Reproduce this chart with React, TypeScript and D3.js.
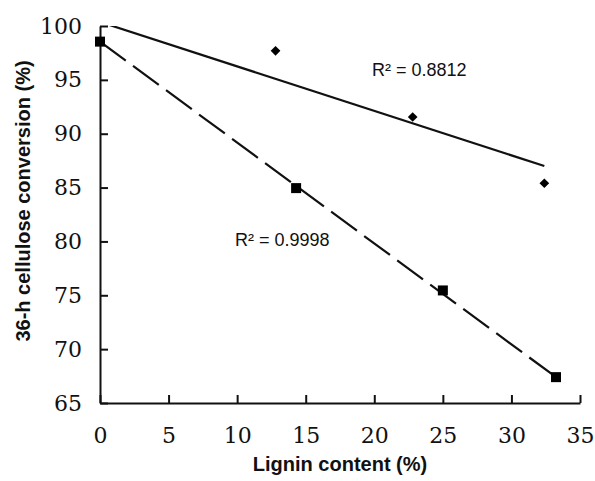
import React, { useEffect, useRef } from "react";
import * as d3 from "d3";

// lignin content (%) vs 36-h cellulose conversion (%)
const diamondX = [12.8, 22.8, 32.4];
const diamondY = [97.7, 91.55, 85.4];
const squareX = [0, 14.3, 25, 33.25];
const squareY = [98.55, 84.95, 75.45, 67.4];

// fitted trend lines (end points)
const trendSolidX = [0, 32.4];
const trendSolidY = [100.38, 87.0];
const trendDashX = [0, 33.25];
const trendDashY = [98.55, 67.4];

const xTicks = [0, 5, 10, 15, 20, 25, 30, 35];
const yTicks = [65, 70, 75, 80, 85, 90, 95, 100];

const App = () => {
  const ref = useRef<SVGSVGElement>(null);

  const width = 595;
  const height = 481;
  const margin = { top: 26, right: 15, bottom: 78, left: 100 };
  const innerW = width - margin.left - margin.right;
  const innerH = height - margin.top - margin.bottom;

  useEffect(() => {
    const svg = d3.select(ref.current);
    svg.selectAll("*").remove();

    const xScale = d3.scaleLinear().domain([0, 35]).range([0, innerW]);
    const yScale = d3.scaleLinear().domain([65, 100]).range([innerH, 0]);

    const g = svg
      .append("g")
      .attr("transform", `translate(${margin.left},${margin.top})`);

    g.append("clipPath")
      .attr("id", "plot-clip")
      .append("rect")
      .attr("x", 0)
      .attr("y", 0)
      .attr("width", innerW)
      .attr("height", innerH);

    // axes with inward ticks
    const xAxis = g
      .append("g")
      .attr("transform", `translate(0,${innerH})`)
      .call(
        d3
          .axisBottom(xScale)
          .tickValues(xTicks)
          .tickSizeInner(-8)
          .tickSizeOuter(0)
          .tickPadding(24)
      );
    const yAxis = g.append("g").call(
      d3
        .axisLeft(yScale)
        .tickValues(yTicks)
        .tickSizeInner(-8)
        .tickSizeOuter(0)
        .tickPadding(18)
    );

    [xAxis, yAxis].forEach((ax) => {
      ax.attr("font-family", "DejaVu Serif").attr("font-size", 22);
      ax.select(".domain").attr("stroke", "#111").attr("stroke-width", 2);
      ax.selectAll(".tick line").attr("stroke", "#111").attr("stroke-width", 2);
      ax.selectAll(".tick text").attr("fill", "#111").attr("font-weight", 300);
    });
    xAxis.selectAll(".tick text").attr("dy", "0.71em");

    const line = d3
      .line<[number, number]>()
      .x((d) => xScale(d[0]))
      .y((d) => yScale(d[1]));

    const solidPts: [number, number][] = trendSolidX.map((x, i) => [x, trendSolidY[i]]);
    const dashPts: [number, number][] = trendDashX.map((x, i) => [x, trendDashY[i]]);

    g.append("path")
      .datum(solidPts)
      .attr("clip-path", "url(#plot-clip)")
      .attr("fill", "none")
      .attr("stroke", "#111")
      .attr("stroke-width", 2.2)
      .attr("d", line);

    g.append("path")
      .datum(dashPts)
      .attr("fill", "none")
      .attr("stroke", "#111")
      .attr("stroke-width", 2.2)
      .attr("stroke-dasharray", "32,9")
      .attr("d", line);

    // diamonds
    g.selectAll(".diamond")
      .data(diamondX)
      .enter()
      .append("path")
      .attr("class", "diamond")
      .attr("d", d3.symbol(d3.symbolDiamond2, 60)())
      .attr("transform", (d, i) => `translate(${xScale(d)},${yScale(diamondY[i])})`)
      .attr("fill", "#000");

    // squares
    g.selectAll(".square")
      .data(squareX)
      .enter()
      .append("rect")
      .attr("class", "square")
      .attr("x", (d) => xScale(d) - 5)
      .attr("y", (d, i) => yScale(squareY[i]) - 5)
      .attr("width", 10)
      .attr("height", 10)
      .attr("fill", "#000");

    // R² labels
    const labelFont = "Liberation Sans, Arial, sans-serif";
    svg
      .append("text")
      .attr("x", 372)
      .attr("y", 76)
      .attr("font-family", labelFont)
      .attr("font-size", 18)
      .attr("fill", "#111")
      .text("R² = 0.8812");
    svg
      .append("text")
      .attr("x", 235)
      .attr("y", 246)
      .attr("font-family", labelFont)
      .attr("font-size", 18)
      .attr("fill", "#111")
      .text("R² = 0.9998");

    // axis titles
    svg
      .append("text")
      .attr("x", margin.left + xScale(17.5))
      .attr("y", 471)
      .attr("text-anchor", "middle")
      .attr("font-family", labelFont)
      .attr("font-size", 20)
      .attr("font-weight", "bold")
      .attr("fill", "#111")
      .text("Lignin content (%)");
    svg
      .append("text")
      .attr("transform", `translate(30,201) rotate(-90)`)
      .attr("text-anchor", "middle")
      .attr("font-family", labelFont)
      .attr("font-size", 20)
      .attr("font-weight", "bold")
      .attr("fill", "#111")
      .text("36-h cellulose conversion (%)");
  }, []);

  return (
    <svg
      ref={ref}
      width={width}
      height={height}
      style={{ position: "absolute", left: 0, top: 0, background: "#fff" }}
    ></svg>
  );
};

export default App;
